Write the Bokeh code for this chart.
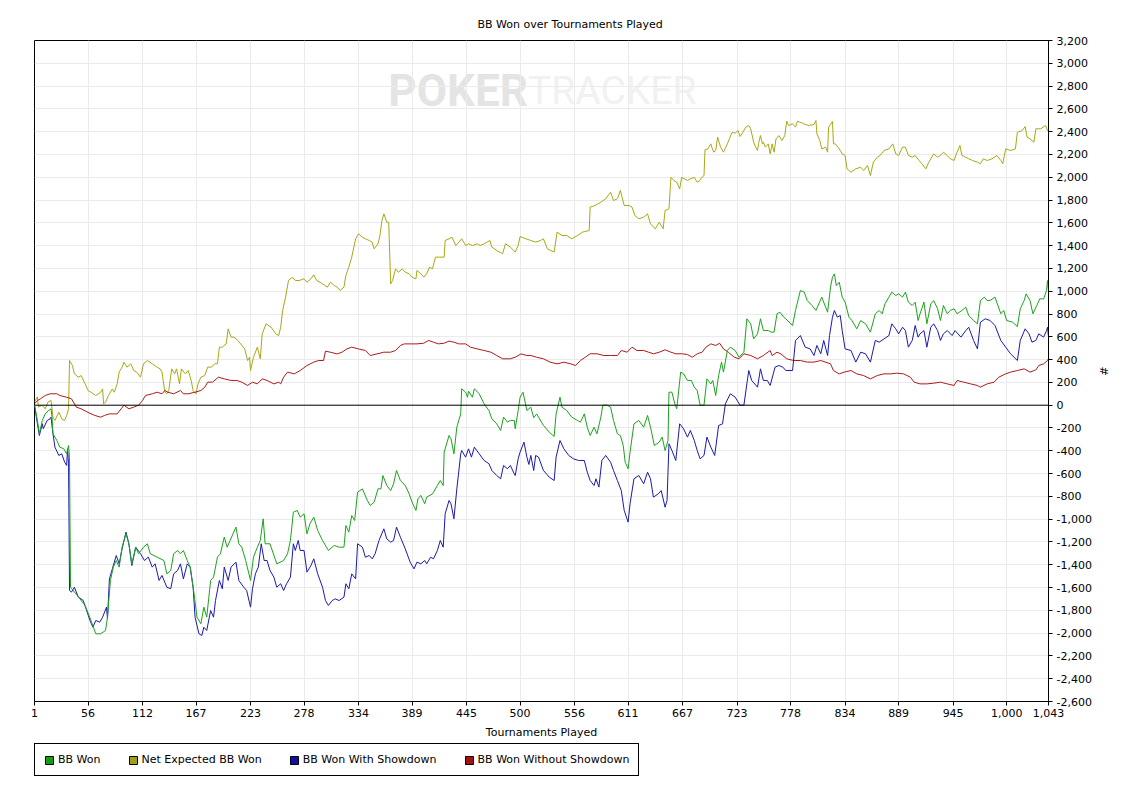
from bokeh.plotting import figure
from bokeh.layouts import column
from bokeh.models import (Range1d, FixedTicker, NumeralTickFormatter, Span,
                          Legend, LegendItem, Label)
from bokeh.embed import file_html
from bokeh.resources import INLINE

# ---------------- data (tournament, BB) ----------------
title_text = "BB Won over Tournaments Played"
x_label = "Tournaments Played"
y_label = "#"
x_ticks = [1, 56, 112, 167, 223, 278, 334, 389, 445, 500, 556, 611, 667, 723,
           778, 834, 889, 945, 1000, 1043]
y_ticks = list(range(-2600, 3201, 200))

series_names = ["BB Won", "Net Expected BB Won", "BB Won With Showdown",
                "BB Won Without Showdown"]

bb_won = [(1,0),(4,-134),(6,-250),(9,-134),(12,-76),(15,-50),(18,-32),(19,-105),(20,-251),(24,-310),(27,-368),(31,-382),(34,-427),(36,-354),(37,-460),(38,-1597),(45,-1670),(53,-1758),(59,-1889),(64,-2006),(69,-2006),(74,-1977),(76,-1860),(79,-1538),(82,-1421),(85,-1363),(88,-1421),(91,-1246),(95,-1129),(98,-1216),(101,-1392),(105,-1246),(108,-1304),(113,-1246),(117,-1216),(120,-1304),(127,-1333),(134,-1363),(137,-1480),(141,-1450),(144,-1304),(148,-1275),(151,-1304),(154,-1275),(158,-1363),(161,-1421),(165,-1655),(168,-1860),(172,-1918),(175,-1772),(178,-1860),(182,-1538),(185,-1509),(189,-1333),(192,-1304),(196,-1158),(199,-1246),(202,-1187),(208,-1070),(211,-1216),(214,-1246),(218,-1363),(223,-1538),(226,-1333),(230,-1246),(233,-1187),(236,-997),(238,-1216),(243,-1216),(250,-1392),(257,-1363),(261,-1304),(264,-1187),(267,-939),(271,-924),(274,-983),(278,-953),(281,-1129),(284,-1041),(288,-983),(292,-1099),(297,-1187),(303,-1275),(309,-1231),(314,-1246),(319,-1246),(321,-1056),(324,-1114),(327,-968),(330,-1012),(333,-763),(338,-734),(343,-836),(346,-880),(350,-851),(354,-734),(357,-734),(359,-617),(363,-705),(367,-749),(370,-690),(373,-573),(377,-661),(382,-705),(386,-778),(389,-851),(393,-924),(395,-822),(398,-792),(402,-865),(404,-807),(410,-778),(415,-705),(418,-661),(421,-705),(422,-412),(427,-266),(429,-295),(432,-427),(435,-193),(439,-76),(440,144),(444,114),(446,70),(447,123),(451,70),(453,144),(458,100),(463,12),(468,-47),(471,-120),(476,-164),(480,-222),(483,-105),(487,-149),(490,-134),(494,-134),(495,-207),(498,-47),(500,70),(503,114),(507,-47),(511,-17),(514,-110),(517,-76),(524,-178),(530,-237),(535,-275),(537,-76),(541,70),(543,-17),(548,-47),(553,-105),(559,-134),(562,-149),(566,-76),(569,-193),(572,-266),(576,-193),(579,-251),(583,-105),(585,0),(589,2),(593,-17),(596,-134),(600,-251),(603,-266),(606,-354),(608,-500),(611,-558),(613,-412),(617,-164),(622,-134),(627,-193),(631,-90),(634,-193),(638,-354),(643,-324),(646,-280),(649,-398),(652,-310),(653,114),(656,114),(659,12),(661,-31),(665,290),(668,275),(672,217),(676,217),(679,158),(682,129),(685,0),(689,0),(692,231),(696,187),(698,217),(701,85),(704,260),(707,378),(709,290),(713,480),(716,509),(721,480),(725,421),(730,465),(733,758),(737,714),(740,582),(744,626),(747,758),(750,655),(755,655),(758,641),(761,641),(764,802),(767,816),(771,772),(773,758),(780,699),(783,831),(788,1006),(792,992),(795,919),(800,875),(804,831),(807,889),(810,948),(816,816),(819,1036),(821,1123),(823,1152),(825,1050),(828,1079),(831,948),(834,904),(838,772),(841,743),(846,670),(850,743),(855,714),(860,641),(865,802),(869,831),(872,802),(875,889),(879,948),(882,992),(886,962),(889,977),(893,948),(896,992),(899,904),(903,875),(906,904),(909,743),(911,802),(915,904),(918,714),(922,889),(925,918),(929,846),(932,743),(935,875),(939,802),(942,831),(946,846),(949,802),(954,831),(958,860),(961,787),(966,743),(970,714),(973,918),(977,948),(980,919),(983,919),(988,948),(994,802),(997,831),(1000,743),(1006,729),(1011,690),(1014,846),(1018,919),(1020,977),(1024,919),(1027,802),(1031,875),(1034,933),(1038,933),(1041,1006),(1042,1094),(1043,1000)]

net_expected = [(1,29),(4,73),(5,-17),(9,0),(12,-32),(15,29),(18,41),(20,-105),(22,-134),(26,-61),(29,-120),(32,-134),(34,-90),(36,-32),(37,392),(40,348),(42,275),(46,246),(49,260),(53,187),(56,129),(59,114),(64,85),(69,114),(71,143),(72,12),(74,26),(77,85),(81,143),(83,114),(86,187),(88,290),(91,334),(93,377),(96,334),(100,363),(103,304),(106,290),(110,246),(113,363),(117,392),(122,363),(127,334),(130,319),(132,290),(135,114),(137,100),(139,129),(142,319),(145,275),(147,319),(150,187),(152,319),(156,275),(159,304),(162,217),(164,129),(167,100),(169,187),(172,246),(176,260),(179,334),(183,334),(186,363),(189,363),(191,509),(194,509),(198,538),(200,670),(203,597),(206,597),(210,568),(217,494),(220,392),(222,421),(223,304),(226,421),(230,509),(233,407),(235,626),(239,714),(244,685),(249,626),(252,611),(254,685),(256,831),(259,948),(262,1094),(266,1123),(269,1094),(273,1094),(278,1109),(281,1079),(285,1109),(288,1144),(291,1094),(297,1065),(302,1036),(305,1079),(309,1050),(312,1036),(315,1006),(319,1036),(321,1138),(324,1211),(327,1299),(331,1460),(334,1504),(338,1474),(341,1460),(345,1445),(348,1430),(350,1372),(354,1416),(356,1489),(358,1620),(360,1679),(363,1606),(365,1606),(367,1065),(369,1094),(372,1196),(375,1167),(379,1196),(382,1167),(386,1153),(389,1123),(393,1109),(394,1182),(398,1153),(401,1123),(404,1153),(407,1211),(410,1196),(413,1299),(417,1299),(422,1299),(423,1445),(427,1460),(430,1474),(434,1401),(437,1430),(440,1460),(444,1401),(447,1416),(451,1401),(456,1416),(459,1401),(463,1416),(469,1445),(471,1387),(476,1358),(482,1328),(485,1416),(490,1387),(495,1343),(498,1401),(500,1480),(506,1460),(511,1445),(516,1431),(521,1445),(524,1460),(528,1372),(535,1343),(538,1518),(543,1489),(548,1489),(553,1460),(559,1489),(564,1518),(571,1533),(572,1738),(577,1752),(583,1781),(588,1811),(593,1869),(596,1796),(600,1811),(603,1884),(607,1752),(612,1752),(615,1738),(618,1664),(622,1635),(627,1650),(631,1679),(634,1591),(639,1547),(643,1606),(647,1547),(649,1708),(653,1723),(655,1999),(658,1972),(661,1957),(664,1898),(666,1999),(672,1972),(675,1986),(679,1999),(682,1957),(684,1966),(687,2001),(689,2015),(690,2241),(693,2249),(696,2293),(697,2264),(699,2220),(701,2235),(703,2352),(706,2264),(709,2220),(713,2293),(715,2337),(718,2395),(721,2387),(724,2410),(726,2358),(728,2381),(732,2440),(735,2454),(737,2425),(740,2308),(742,2264),(744,2235),(745,2293),(747,2366),(749,2293),(750,2308),(752,2264),(755,2293),(757,2205),(759,2293),(761,2220),(763,2337),(766,2366),(769,2322),(772,2366),(774,2492),(776,2454),(780,2469),(783,2440),(785,2492),(790,2475),(793,2463),(797,2454),(802,2463),(804,2498),(805,2381),(808,2322),(810,2249),(814,2264),(816,2220),(817,2439),(821,2489),(822,2293),(824,2293),(828,2249),(831,2205),(834,2191),(836,2074),(840,2045),(845,2074),(850,2088),(853,2059),(857,2103),(860,2015),(863,2132),(867,2176),(870,2191),(874,2235),(879,2249),(883,2293),(886,2205),(889,2191),(893,2264),(896,2264),(899,2191),(903,2176),(906,2191),(910,2147),(913,2118),(917,2074),(920,2132),(925,2205),(929,2176),(932,2191),(935,2220),(939,2191),(942,2162),(946,2147),(949,2220),(952,2279),(954,2191),(958,2176),(961,2162),(965,2147),(970,2132),(973,2118),(976,2162),(980,2147),(985,2162),(990,2191),(994,2147),(996,2118),(999,2249),(1004,2235),(1009,2249),(1011,2395),(1016,2410),(1019,2445),(1021,2352),(1024,2337),(1028,2308),(1030,2425),(1035,2425),(1040,2454),(1042,2410),(1043,2420)]

with_showdown = [(1,0),(4,-163),(6,-266),(9,-163),(10,-207),(14,-134),(17,-120),(18,-105),(20,-251),(22,-368),(26,-441),(29,-427),(32,-500),(34,-529),(35,-383),(36,-515),(37,-1626),(39,-1640),(42,-1597),(46,-1684),(51,-1713),(54,-1787),(58,-1889),(61,-1948),(64,-1889),(68,-1904),(71,-1860),(75,-1772),(76,-1874),(78,-1524),(81,-1436),(85,-1319),(88,-1392),(91,-1260),(95,-1114),(98,-1216),(101,-1407),(105,-1246),(110,-1304),(114,-1363),(118,-1333),(122,-1421),(125,-1392),(129,-1538),(132,-1494),(137,-1597),(141,-1611),(144,-1480),(148,-1450),(151,-1392),(154,-1524),(158,-1392),(161,-1421),(164,-1597),(166,-1860),(170,-2006),(173,-2021),(175,-1948),(178,-1977),(182,-1802),(185,-1860),(187,-1713),(191,-1538),(194,-1611),(196,-1421),(200,-1538),(203,-1421),(208,-1377),(211,-1538),(216,-1597),(219,-1626),(223,-1772),(225,-1611),(228,-1480),(231,-1421),(234,-1216),(237,-1363),(240,-1363),(243,-1450),(247,-1509),(250,-1597),(254,-1567),(257,-1626),(260,-1567),(264,-1509),(267,-1216),(269,-1275),(272,-1187),(274,-1275),(278,-1275),(281,-1465),(285,-1408),(288,-1348),(292,-1480),(297,-1597),(300,-1714),(303,-1757),(307,-1714),(310,-1699),(314,-1714),(319,-1684),(321,-1567),(324,-1611),(327,-1480),(331,-1524),(333,-1216),(338,-1246),(341,-1334),(345,-1319),(348,-1348),(351,-1304),(355,-1187),(360,-1085),(363,-1173),(367,-1202),(370,-1187),(373,-1070),(377,-1158),(382,-1260),(387,-1377),(391,-1436),(394,-1377),(398,-1392),(402,-1363),(404,-1392),(408,-1334),(411,-1348),(415,-1275),(418,-1187),(421,-1246),(423,-953),(427,-836),(429,-865),(432,-997),(435,-734),(439,-427),(440,-398),(444,-456),(447,-383),(450,-456),(453,-368),(458,-427),(463,-485),(468,-514),(471,-573),(476,-617),(480,-646),(483,-529),(487,-558),(490,-529),(494,-602),(495,-617),(498,-471),(500,-412),(504,-324),(507,-456),(509,-520),(511,-441),(514,-573),(516,-441),(519,-456),(524,-573),(530,-631),(535,-661),(537,-456),(541,-310),(545,-383),(550,-441),(555,-471),(560,-485),(566,-485),(569,-588),(572,-661),(576,-705),(578,-646),(581,-719),(584,-485),(588,-441),(593,-500),(596,-573),(600,-661),(604,-749),(607,-924),(611,-1026),(613,-865),(617,-646),(622,-617),(627,-690),(631,-588),(634,-646),(637,-807),(642,-778),(645,-749),(649,-895),(651,-836),(653,-339),(656,-397),(660,-485),(664,-163),(668,-207),(672,-280),(675,-222),(679,-310),(682,-397),(685,-471),(689,-441),(692,-280),(696,-368),(700,-441),(704,-178),(708,-164),(711,12),(716,100),(721,71),(726,0),(730,0),(733,187),(735,304),(738,217),(744,158),(747,319),(750,217),(754,217),(757,173),(762,334),(766,348),(770,334),(773,304),(780,304),(783,567),(788,611),(793,509),(798,494),(802,436),(805,524),(809,451),(812,568),(816,436),(818,611),(821,772),(823,831),(826,772),(829,787),(831,655),(834,494),(840,480),(845,378),(850,465),(855,451),(860,378),(865,568),(869,553),(874,582),(879,611),(882,714),(886,670),(889,626),(893,684),(896,655),(899,509),(903,568),(906,699),(909,597),(911,626),(915,655),(918,509),(922,684),(925,714),(929,655),(932,568),(935,626),(939,655),(944,611),(947,655),(953,597),(958,655),(961,684),(966,568),(970,494),(973,728),(978,758),(983,743),(988,699),(994,568),(999,509),(1004,451),(1011,392),(1014,568),(1019,670),(1023,626),(1026,553),(1030,568),(1033,626),(1038,597),(1041,655),(1042,684),(1043,600)]

without_showdown = [(1,12),(4,41),(7,55),(12,85),(17,100),(24,100),(27,85),(34,70),(39,56),(44,-17),(49,-32),(56,-63),(63,-90),(69,-105),(73,-90),(78,-76),(83,-76),(86,-76),(90,-32),(93,0),(98,-32),(103,-17),(108,0),(112,41),(115,85),(122,100),(127,114),(132,100),(135,129),(138,114),(144,100),(151,129),(154,100),(159,100),(166,114),(172,129),(176,158),(179,202),(184,202),(190,246),(196,231),(203,217),(209,217),(214,202),(220,173),(225,202),(230,187),(235,231),(240,217),(247,187),(252,202),(254,187),(257,246),(261,290),(268,275),(274,304),(281,348),(288,378),(293,392),(298,392),(300,474),(305,465),(312,450),(317,465),(322,494),(327,509),(334,494),(341,480),(346,436),(353,450),(360,465),(367,465),(372,480),(377,524),(381,538),(387,538),(394,538),(401,544),(406,568),(411,553),(416,538),(422,544),(427,562),(432,553),(437,538),(444,538),(449,509),(456,494),(463,480),(470,465),(476,436),(482,407),(490,407),(495,421),(501,450),(507,436),(511,436),(517,421),(524,407),(531,377),(538,363),(545,377),(552,363),(557,348),(562,392),(567,421),(572,451),(579,451),(586,436),(593,436),(600,436),(604,480),(610,465),(615,509),(620,480),(627,480),(632,465),(637,451),(643,465),(649,486),(655,465),(660,451),(667,451),(672,444),(677,421),(682,451),(687,465),(691,509),(696,538),(701,524),(705,544),(709,494),(714,465),(720,421),(725,407),(730,451),(737,436),(744,407),(750,436),(757,480),(759,436),(764,465),(768,450),(774,407),(781,392),(788,392),(795,378),(802,378),(809,392),(819,363),(822,304),(828,275),(833,290),(840,304),(846,275),(853,260),(860,231),(867,260),(874,275),(881,275),(887,281),(894,275),(901,246),(905,202),(911,187),(918,187),(925,193),(932,202),(939,187),(946,173),(949,217),(956,202),(963,187),(970,173),(973,158),(980,187),(987,202),(992,246),(999,275),(1004,290),(1011,304),(1018,319),(1024,290),(1030,310),(1033,348),(1038,363),(1042,392),(1043,407)]

series_colors = ["#1ca31c", "#a8a814", "#1a1aac", "#ae1a1a"]
legend_colors = ["#0fa00f", "#a0a010", "#1010a8", "#a81010"]

# ---------------- main figure ----------------
FONT = "DejaVu Sans"
p = figure(frame_width=1014, frame_height=661,
           x_range=Range1d(1, 1043), y_range=Range1d(-2600, 3200),
           y_axis_location="right", output_backend="svg", toolbar_location=None,
           min_border_left=34, min_border_right=85, min_border_top=40,
           min_border_bottom=38, background_fill_color="white",
           border_fill_color="white")

p.title.text = title_text
p.title.text_font = FONT
p.title.text_font_size = "11px"
p.title.text_font_style = "normal"
p.title.text_color = "black"
p.title.align = "left"
p.title.offset = 443
p.title.standoff = 19

p.outline_line_color = "black"
p.outline_line_alpha = 1.0
p.outline_line_width = 1

xt = FixedTicker(ticks=x_ticks)
yt = FixedTicker(ticks=y_ticks)
p.xaxis.ticker = xt
p.yaxis.ticker = yt
p.xgrid.ticker = xt
p.ygrid.ticker = yt
for ax in (p.xaxis, p.yaxis):
    ax.formatter = NumeralTickFormatter(format="0,0")
    ax.axis_line_color = "black"
    ax.major_tick_line_color = "black"
    ax.major_tick_out = 4
    ax.major_tick_in = 0
    ax.minor_tick_line_color = None
    ax.major_label_text_font = FONT
    ax.major_label_text_font_size = "11px"
    ax.major_label_text_color = "black"
    ax.axis_label_text_font = FONT
    ax.axis_label_text_font_size = "11px"
    ax.axis_label_text_font_style = "normal"
    ax.axis_label_text_color = "black"
p.xaxis.axis_label = x_label
p.yaxis.axis_label = y_label
p.xaxis.major_label_standoff = 3
p.xaxis.axis_label_standoff = 6
p.yaxis.major_label_standoff = 4
p.yaxis.axis_label_standoff = 2
p.grid.grid_line_color = "#ebebeb"
p.grid.grid_line_width = 1

# watermark
p.add_layout(Label(x=508, y=2761, text="POKER", text_align="right",
                   text_baseline="middle", text_font="Roboto",
                   text_font_style="bold", text_font_size="44px",
                   text_color="#e4e4e4", level="image"))
p.add_layout(Label(x=508, y=2761, text="TRACKER", text_align="left",
                   text_baseline="middle", text_font="Roboto",
                   text_font_size="39px", text_color="#f1f1f1",
                   level="image"))

p.add_layout(Span(location=0, dimension="width", line_color="black",
                  line_width=1))

all_series = [bb_won, net_expected, with_showdown, without_showdown]
draw_order = [1, 3, 2, 0]
for i in draw_order:
    xs = [a for a, b in all_series[i]]
    ys = [b for a, b in all_series[i]]
    p.line(xs, ys, line_color=series_colors[i], line_width=1)

# ---------------- legend strip ----------------
pl = figure(width=1133, height=42, x_range=Range1d(0, 1), y_range=Range1d(0, 1),
            output_backend="svg", toolbar_location=None, min_border=0,
            x_axis_location=None, y_axis_location=None,
            background_fill_color="white", border_fill_color="white")
pl.outline_line_color = None
pl.grid.visible = False

nan = float("nan")
items = []
for name, col in zip(series_names, legend_colors):
    r = pl.quad(left=[nan], right=[nan], top=[nan], bottom=[nan],
                fill_color=col, line_color="black", line_width=1)
    items.append(LegendItem(label=name, renderers=[r]))

legend = Legend(items=items, orientation="horizontal", location=(0, 7),
                glyph_width=10, glyph_height=10, label_standoff=4,
                spacing=27, padding=9, margin=0, label_height=12,
                label_text_font=FONT, label_text_font_size="11px",
                label_text_color="black", border_line_color="black",
                border_line_width=1, border_line_alpha=1.0,
                background_fill_color="white", background_fill_alpha=1.0)
pl.add_layout(legend, "center")

layout = column(p, pl, spacing=0)
open("out.html", "w").write(file_html(layout, INLINE))
